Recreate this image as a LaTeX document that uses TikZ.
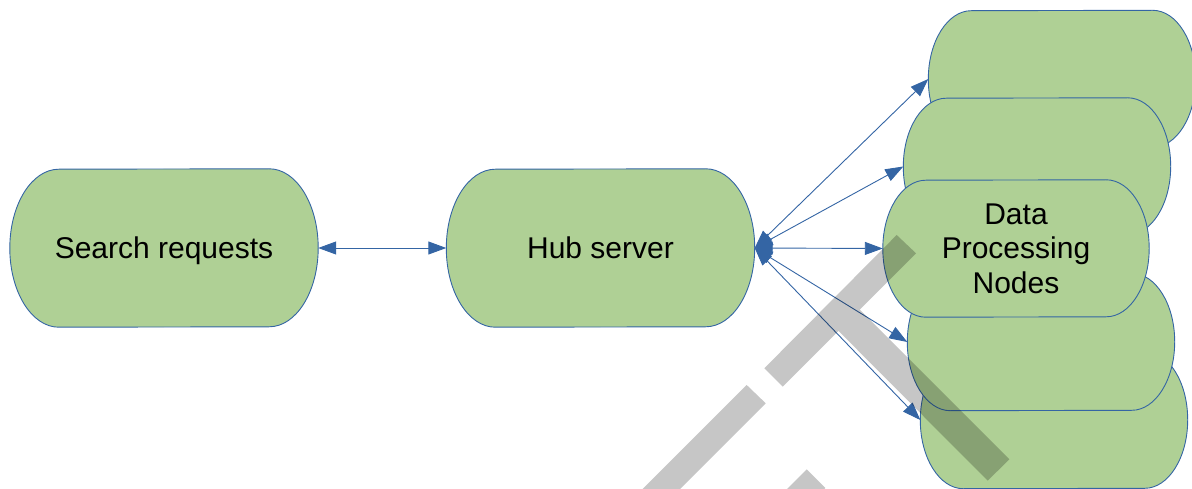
\documentclass[tikz,border=0pt]{standalone}
\usepackage{fontspec}
\setmainfont{Liberation Sans}
\usetikzlibrary{arrows.meta,calc}
\definecolor{tgreen}{HTML}{AFD095}
\definecolor{tblue}{HTML}{3465A4}
\pgfdeclarelayer{bg}
\pgfsetlayers{bg,main}
\newcommand\termbg[3]{%
  \begin{pgfonlayer}{bg}
  \path[termshape] ([xshift=-#2pt]#1.north east)
    arc[start angle=90,end angle=-90,x radius=#2pt,y radius=#3pt]
    -- ([xshift=#2pt]#1.south west)
    arc[start angle=270,end angle=90,x radius=#2pt,y radius=#3pt]
    -- cycle;
  \end{pgfonlayer}}
\tikzset{
  termshape/.style={fill=tgreen,draw=tblue,line width=0.9pt},
  term/.style={rectangle,inner sep=0pt,draw=none,fill=none,
    font=\fontsize{30}{34.5}\selectfont,text=black},
  oneline/.style={text height=21.5pt,text depth=0pt},
  big/.style={minimum width=308pt,minimum height=158pt},
  data/.style={minimum width=267pt,minimum height=137pt},
  conn/.style={tblue,line width=0.9pt,
    {Triangle[length=18pt,width=13pt]}-{Triangle[length=18pt,width=13pt]}},
  wmark/.style={fill=black,opacity=0.224}
}
\begin{document}
\begin{tikzpicture}[x=1pt,y=-1pt]
\useasboundingbox (0,0) rectangle (1192,489);
% nodes
\node[term,big,oneline] (sr) at (164,248) {Search requests};
\node[term,big,oneline] (hub) at (600.5,248) {Hub server};
\node[term,data] (n1) at (1062,79) {};
\node[term,data] (n2) at (1037,166.5) {};
\node[term,data] (n4) at (1041,342) {};
\node[term,data] (n5) at (1054,420) {};
\node[term,data,minimum width=266pt,align=center] (dp) at (1016,248.5) {Data\\Processing\\Nodes};
% shapes behind
\termbg{sr}{49}{79}
\termbg{hub}{49}{79}
\termbg{n1}{43}{68.5}
\termbg{n2}{43}{68.5}
\termbg{n5}{43}{68.5}
\termbg{n4}{43}{68.5}
\termbg{dp}{43}{68.5}
% connectors
\draw[conn] (sr.east) -- (hub.west);
\foreach \n in {n1,n2,dp,n4,n5}{\draw[conn] (hub.east) -- (\n.west);}
% watermark
\begin{scope}
\clip (0,0) rectangle (1192,489);
\fill[wmark]
  (896.7,235) -- (916,253.3) -- (782.7,386.7) -- (764.3,368.3) -- cycle
  (746.7,385) -- (765.7,403.3) -- (649,520) -- (611.7,520) -- cycle
  (850,300) -- (1009.3,459.3) -- (987.7,480.7) -- (828.8,321.2) -- cycle
  (806.7,469.3) -- (825.4,488) -- (790,523.4) -- (771.3,504.7) -- cycle;
\end{scope}
\end{tikzpicture}
\end{document}
